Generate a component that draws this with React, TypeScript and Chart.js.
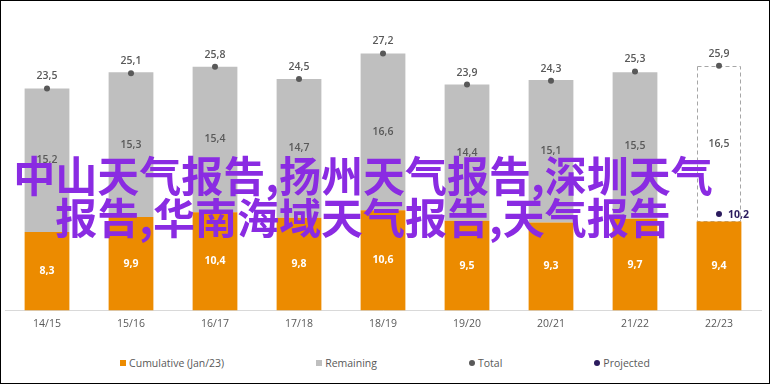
import React, { useEffect, useRef } from "react";
import { Chart, registerables } from "chart.js";

Chart.register(...registerables);

const categories = ["14/15", "15/16", "16/17", "17/18", "18/19", "19/20", "20/21", "21/22", "22/23"];
const cumulative = [8.3, 9.9, 10.4, 9.8, 10.6, 9.5, 9.3, 9.7, 9.4];
const remaining = [15.2, 15.3, 15.4, 14.7, 16.6, 14.4, 15.1, 15.5, 16.5];
const totals = [23.5, 25.1, 25.8, 24.5, 27.2, 23.9, 24.3, 25.3, 25.9];
const projected = [null, null, null, null, null, null, null, null, 10.2];
const projectedIndex = 8;

const overlayLine1 = "中山天气报告,扬州天气报告,深圳天气";
const overlayLine2 = "报告,华南海域天气报告,天气报告";

const ORANGE = "#EC8B00";
const GRAY = "#BFBFBF";
const DARK = "#595959";
const NAVY = "#2B1B5E";
const FONT = "'Open Sans', sans-serif";

const fmt = (v: number) => v.toFixed(1).replace(".", ",");

const labelPlugin = {
  id: "valueLabels",
  afterDatasetDraw(chart: any, args: any) {
    if (args.index !== 1) return;
    const ctx = chart.ctx;
    const meta = chart.getDatasetMeta(1);
    const el = meta.data[projectedIndex];
    if (!el) return;
    const p = el.getProps(["x", "y", "base", "width"], true);
    ctx.save();
    ctx.strokeStyle = "#A6A6A6";
    ctx.lineWidth = 1;
    ctx.setLineDash([4, 3]);
    const l = Math.round(p.x - p.width / 2) + 0.5;
    const r = Math.round(p.x + p.width / 2) - 0.5;
    const t = Math.round(p.y) + 0.5;
    const b = Math.round(p.base) - 0.5;
    ctx.strokeRect(l, t, r - l, b - t);
    ctx.restore();
  },
  afterDraw(chart: any) {
    const ctx = chart.ctx;
    ctx.save();
    ctx.textAlign = "center";
    ctx.textBaseline = "middle";
    chart.getDatasetMeta(0).data.forEach((el: any, i: number) => {
      const p = el.getProps(["x", "y", "base"], true);
      ctx.fillStyle = "#FFFFFF";
      ctx.font = `700 10.5px ${FONT}`;
      ctx.fillText(fmt(cumulative[i]), p.x, (p.y + p.base) / 2);
    });
    chart.getDatasetMeta(1).data.forEach((el: any, i: number) => {
      const p = el.getProps(["x", "y", "base"], true);
      ctx.fillStyle = DARK;
      ctx.font = `600 10.5px ${FONT}`;
      ctx.fillText(fmt(remaining[i]), p.x, (p.y + p.base) / 2);
    });
    chart.getDatasetMeta(2).data.forEach((el: any, i: number) => {
      const p = el.getProps(["x", "y"], true);
      ctx.fillStyle = DARK;
      ctx.font = `600 10.5px ${FONT}`;
      ctx.fillText(fmt(totals[i]), p.x, p.y - 12);
    });
    const pm = chart.getDatasetMeta(3).data[projectedIndex];
    if (pm) {
      const p = pm.getProps(["x", "y"], true);
      ctx.fillStyle = NAVY;
      ctx.font = `700 10.5px ${FONT}`;
      ctx.textAlign = "left";
      ctx.fillText(fmt(projected[projectedIndex] as number), p.x + 9, p.y + 0.5);
    }
    ctx.restore();
  },
};

function LegendItem({ color, round, text }: { color: string; round?: boolean; text: string }) {
  return (
    <div style={{ display: "flex", alignItems: "center" }}>
      <span
        style={{
          display: "inline-block",
          width: 6,
          height: 6,
          background: color,
          borderRadius: round ? 3 : 0,
          marginRight: 3,
        }}
      />
      <span>{text}</span>
    </div>
  );
}

export default function App() {
  const canvasRef = useRef<HTMLCanvasElement | null>(null);

  useEffect(() => {
    if (!canvasRef.current) return;
    const remColors = remaining.map((_, i) => (i === projectedIndex ? "rgba(255,255,255,0)" : GRAY));
    const chart = new Chart(canvasRef.current, {
      type: "bar",
      data: {
        labels: categories,
        datasets: [
          {
            type: "bar",
            label: "Cumulative (Jan/23)",
            data: cumulative,
            backgroundColor: ORANGE,
            stack: "bars",
            order: 1,
            barPercentage: 0.533,
            categoryPercentage: 1,
          },
          {
            type: "bar",
            label: "Remaining",
            data: remaining,
            backgroundColor: remColors,
            stack: "bars",
            order: 1,
            barPercentage: 0.533,
            categoryPercentage: 1,
          },
          {
            type: "line",
            label: "Total",
            data: totals,
            showLine: false,
            pointRadius: 3,
            pointBackgroundColor: DARK,
            pointBorderWidth: 0,
            borderColor: DARK,
            stack: "total",
            order: 0,
          },
          {
            type: "line",
            label: "Projected",
            data: projected,
            showLine: false,
            pointRadius: 3,
            pointBackgroundColor: NAVY,
            pointBorderWidth: 0,
            borderColor: NAVY,
            stack: "projected",
            order: 0,
          },
        ],
      } as any,
      options: {
        animation: false,
        responsive: false,
        maintainAspectRatio: false,
        layout: { padding: { left: 0, right: 8, top: 26, bottom: 10 } },
        plugins: { legend: { display: false }, tooltip: { enabled: false } },
        scales: {
          x: {
            stacked: true,
            grid: { display: false, drawTicks: false },
            border: { display: true, color: "#D9D9D9", width: 1 },
            ticks: { color: DARK, font: { family: FONT, size: 10.5 }, padding: 7 },
          },
          y: {
            stacked: true,
            display: false,
            min: 0,
            max: 30,
          },
        },
      } as any,
      plugins: [labelPlugin],
    });
    return () => chart.destroy();
  }, []);

  return (
    <div
      style={{
        position: "absolute",
        left: 0,
        top: 0,
        width: 770,
        height: 384,
        border: "1px solid #000",
        boxSizing: "border-box",
        background: "#fff",
        overflow: "hidden",
      }}
    >
      <canvas ref={canvasRef} width={768} height={346} style={{ position: "absolute", left: 0, top: 0 }} />
      <div
        style={{
          position: "absolute",
          left: 0,
          top: 355,
          width: 768,
          display: "flex",
          justifyContent: "center",
          gap: 92,
          fontFamily: FONT,
          fontSize: 10.5,
          color: DARK,
          lineHeight: "14px",
        }}
      >
        <LegendItem color={ORANGE} text="Cumulative (Jan/23)" />
        <LegendItem color={GRAY} text="Remaining" />
        <LegendItem color={DARK} round text="Total" />
        <LegendItem color={NAVY} round text="Projected" />
      </div>
      <div
        style={{
          position: "absolute",
          left: -23,
          top: 152,
          width: 770,
          textAlign: "center",
          fontFamily: "'Noto Sans CJK SC', sans-serif",
          fontWeight: 700,
          fontSize: 42,
          lineHeight: "42px",
          color: "#8A2BE2",
          whiteSpace: "nowrap",
          pointerEvents: "none",
        }}
      >
        <div>{overlayLine1}</div>
        <div>{overlayLine2}</div>
      </div>
    </div>
  );
}
